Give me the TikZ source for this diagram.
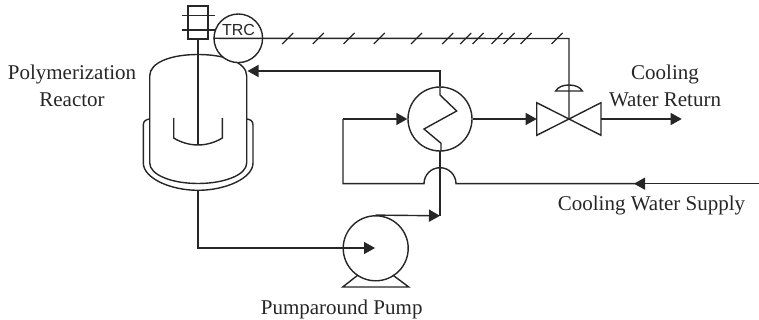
\documentclass[tikz,border=0pt]{standalone}
\usepackage{fontspec}
\setmainfont{Liberation Serif}
\newfontfamily\trcfont{Liberation Sans}
\usetikzlibrary{arrows.meta}
\tikzset{
  px/.style={x=1pt,y=-1pt},
  pipe/.style={draw=black!85,line width=1.4pt},
  thin pipe/.style={draw=black!85,line width=1.2pt},
  flow/.style={pipe,-{Triangle[length=11pt,width=12pt]}},
  ring/.style={circle,draw=black!85,line width=1.4pt,inner sep=0pt},
  lab/.style={font=\fontsize{21}{26.5}\selectfont,align=center,text=black!85,inner sep=0pt},
}
\begin{document}
\begin{tikzpicture}[px]
\useasboundingbox (0,0) rectangle (759,320);
% coordinates
\coordinate (shafttop) at (198,39);
\coordinate (shaftend) at (198,145);
\coordinate (sigend) at (569,38.5);
\coordinate (vin) at (247.5,71);
\coordinate (valvec) at (569,119);
% vessel
\draw[pipe] (149.7,119) -- (149.7,76) .. controls (149.7,62) and (172,54.5) .. (198,54.5) .. controls (224,54.5) and (246.7,62) .. (246.7,76) -- (246.7,163) .. controls (246.7,175) and (224,183.5) .. (198,183.5) .. controls (172,183.5) and (149.7,175) .. (149.7,163) -- cycle;
% jacket
\draw[pipe] (149.7,119) .. controls (146,119.5) and (143.3,121) .. (143.3,125) -- (143.3,163) .. controls (143.3,178) and (170,190.3) .. (198,190.3) .. controls (226,190.3) and (253,178) .. (253,163) -- (253,125) .. controls (253,121) and (250.5,119.5) .. (246.7,119);
% agitator
\node[draw=black!85,line width=1.4pt,minimum width=20pt,minimum height=33pt,inner sep=0pt] (motor) at (198,22.5) {};
\coordinate (c1l) at (181.7,15.7); \coordinate (c1r) at (214.7,15.7);
\coordinate (c2l) at (181.7,30); \coordinate (c2r) at (214.7,30);
\draw[pipe] (c1l) -- (c1r);
\draw[pipe] (c2l) -- (c2r);
\draw[pipe] (motor.south) -- (shaftend);
\draw[pipe] (173.7,118) -- (173.7,138) .. controls (180,142) and (189,145) .. (198,145) .. controls (207,145) and (216,142) .. (222.3,138) -- (222.3,118);
% TRC
\node[ring,minimum size=48.6pt,fill=white] (trc) at (238.3,38.3) {};
\node[font=\trcfont\fontsize{16}{18}\selectfont,text=black!85,inner sep=0pt] (trctxt) at (238.5,29.5) {TRC};
% signal line
\draw[pipe] (trc.west) -- (sigend) -- (valvec);
\foreach \t in {287.7,318.3,349,379.3,416.5,447.7,465.7,478,497,509,526,557}
  \draw[thin pipe] (\t-5.5,44) -- (\t+5.5,33);
% valve
\path[draw=black!85,line width=1.4pt] (valvec) -- (536.7,102.7) -- (536.7,135.3) -- cycle;
\path[draw=black!85,line width=1.4pt] (valvec) -- (601,102.7) -- (601,135.3) -- cycle;
\coordinate (vl) at (536.7,119); \coordinate (vr) at (601,119);
\draw[pipe] (555.7,91) .. controls (558,87) and (563,85) .. (569,85) .. controls (575,85) and (580,87) .. (582.3,91) -- cycle;
% heat exchanger
\node[ring,minimum size=64pt] (hx) at (440,119) {};
\draw[pipe] (440,86.5) -- (440,95) -- (456.7,111) -- (424,129) -- (441,143.3) -- (441,151);
\draw[pipe] (440,151) -- (440,216);
% pump
\node[ring,minimum size=65pt] (pump) at (375.7,248.3) {};
\draw[pipe] (358,275) -- (342.7,287) -- (408.7,287) -- (392.7,275);
% connectors
\coordinate (o1) at (198,190.3);
\draw[flow] (o1) -- (198,248) -- (375,248);
\draw[flow] (pump.north) -- (440,215.8);
\draw[flow] (440,86) -- (440,71) -- (vin);
\draw[flow] (hx.east) -- (vl);
\draw[flow] (vr) -- (681.7,119);
\coordinate (cwend) at (759,183.7);
\draw[flow] (cwend) -- (634,183.7);
\draw[pipe] (636,183.7) -- (456,183.7) arc[start angle=0,end angle=180,radius=16,y radius=-16] -- (343,183.7) -- (343,119);
\draw[flow] (343,119) -- (hx.west);
% labels
\node[lab] (l1) at (72,86) {Polymerization\\Reactor};
\node[lab] (l2) at (665,86) {Cooling\\Water Return};
\node[lab] (l3) at (651.5,205) {Cooling Water Supply};
\node[lab] (l4) at (341.7,309) {Pumparound Pump};
\end{tikzpicture}
\end{document}
